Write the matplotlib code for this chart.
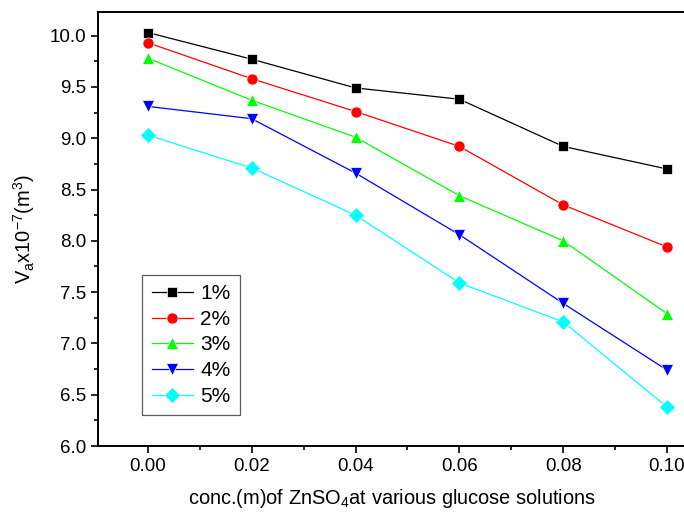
import numpy as np
import matplotlib.pyplot as plt
from matplotlib.ticker import MultipleLocator

plt.rcParams['font.family'] = ['Liberation Sans', 'DejaVu Sans']
plt.rcParams['mathtext.fontset'] = 'custom'
plt.rcParams['mathtext.rm'] = 'Liberation Sans'

conc = [0.00, 0.02, 0.04, 0.06, 0.08, 0.10]
labels = ['1%', '2%', '3%', '4%', '5%']
v1 = [10.03, 9.77, 9.49, 9.38, 8.92, 8.70]
v2 = [9.93, 9.58, 9.26, 8.92, 8.35, 7.94]
v3 = [9.78, 9.37, 9.01, 8.44, 8.00, 7.29]
v4 = [9.31, 9.19, 8.66, 8.06, 7.39, 6.74]
v5 = [9.03, 8.71, 8.25, 7.59, 7.21, 6.38]

series = [v1, v2, v3, v4, v5]
colors = ['black', 'red', '#00ff00', 'blue', 'cyan']
markers = ['s', 'o', '^', 'v', 'D']
sizes = [7, 8, 9, 9, 8]

fig = plt.figure(figsize=(6.84, 5.17), dpi=100)
# axes runs past the right edge of the picture, as in the reference
ax = fig.add_axes([0.1433, 0.1373, 0.86, 0.8395])

for y, c, m, s, lab in zip(series, colors, markers, sizes, labels):
    ax.plot(conc, y, color=c, lw=0.9, marker=m, markersize=s,
            markerfacecolor=c, markeredgecolor='white', markeredgewidth=0.5,
            label=lab)

ax.set_xlim(-0.0096, 0.1037)
ax.set_ylim(6.0, 10.23)
ax.xaxis.set_minor_locator(MultipleLocator(0.01))
ax.yaxis.set_major_locator(MultipleLocator(0.5))
ax.yaxis.set_minor_locator(MultipleLocator(0.25))
ax.set_xticks(conc)
ax.set_xticklabels(['%.2f' % c for c in conc])
ax.tick_params(which='both', direction='out', labelsize=13.5, width=1.2)
ax.tick_params(which='major', length=5)
ax.tick_params(which='minor', length=3)
for sp in ax.spines.values():
    sp.set_linewidth(1.4)

ax.set_xlabel(r'conc.(m)of ZnSO$_4$at various glucose solutions', fontsize=14.4, labelpad=9)
ax.set_ylabel(r'V$_\mathrm{a}$x10$^\mathrm{-7}$(m$^\mathrm{3}$)', fontsize=14.4, labelpad=9)

leg = ax.legend(loc='lower left', bbox_to_anchor=(0.075, 0.071), fontsize=15,
                frameon=True, fancybox=False, edgecolor='#333333',
                handlelength=2.0, handletextpad=0.35, borderpad=0.45,
                labelspacing=0.32, borderaxespad=0)
leg.get_frame().set_linewidth(0.9)

fig.savefig('out.png', dpi=100)
